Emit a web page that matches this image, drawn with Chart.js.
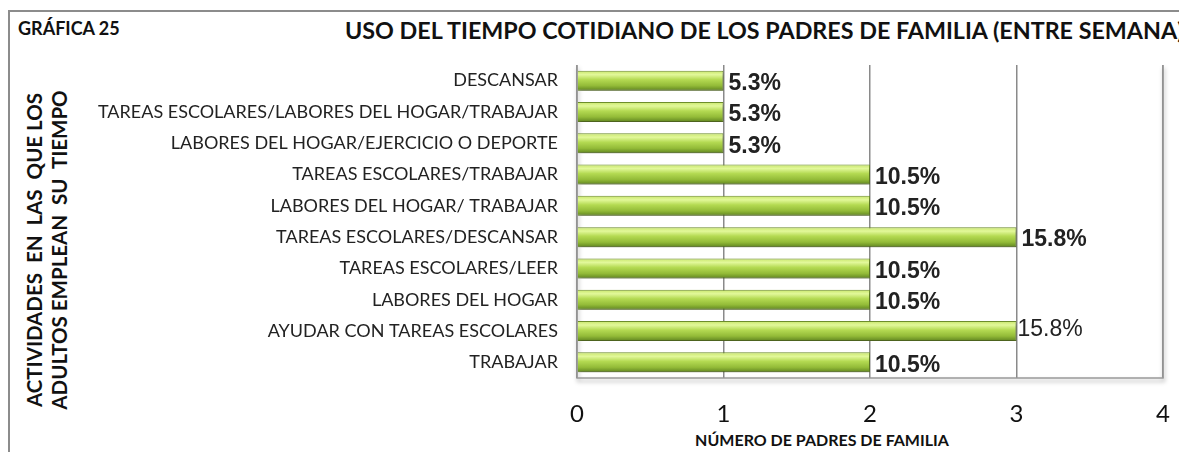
<!DOCTYPE html>
<html>
<head>
<meta charset="utf-8">
<script src="https://cdn.jsdelivr.net/npm/chart.js@4/dist/chart.umd.min.js"></script>
<style>
  body { margin: 0; background: #fff; }
  #wrap { position: relative; width: 1179px; height: 452px; overflow: hidden; }
  #frame { position: absolute; left: 8px; top: 10px; width: 1200px; height: 460px;
           border-top: 2px solid #8c8c8c; border-left: 2px solid #8c8c8c; }
  .txt { position: absolute; font-family: Lato, "Open Sans", sans-serif; font-weight: bold; color: #111; white-space: nowrap; }
  #num { left: 18px; top: 17px; font-size: 18px; }
  #title { left: 345px; top: 16px; font-size: 23.3px; }
  #ytitle { left: 47px; top: 250px; font-size: 20.5px; line-height: 25px; text-align: center;
            transform: translate(-50%, -50%) rotate(-90deg); }
  #xtitle { left: 822px; top: 439px; font-size: 16px; transform: translate(-50%, -50%); }
  canvas { position: absolute; left: 0; top: 0; }
</style>
</head>
<body>
<div id="wrap">
  <div id="frame"></div>
  <div class="txt" id="num">GRÁFICA 25</div>
  <div class="txt" id="title">USO DEL TIEMPO COTIDIANO DE LOS PADRES DE FAMILIA (ENTRE SEMANA)</div>
  <div class="txt" id="ytitle">ACTIVIDADES&nbsp; EN&nbsp; LAS&nbsp; QUE LOS<br>ADULTOS EMPLEAN&nbsp; SU&nbsp; TIEMPO</div>
  <div class="txt" id="xtitle">NÚMERO DE PADRES DE FAMILIA</div>
  <canvas id="chart" width="1179" height="452"></canvas>
</div>
<script>
const categories = [
  "DESCANSAR",
  "TAREAS ESCOLARES/LABORES DEL HOGAR/TRABAJAR",
  "LABORES DEL HOGAR/EJERCICIO O DEPORTE",
  "TAREAS ESCOLARES/TRABAJAR",
  "LABORES DEL HOGAR/ TRABAJAR",
  "TAREAS ESCOLARES/DESCANSAR",
  "TAREAS ESCOLARES/LEER",
  "LABORES DEL HOGAR",
  "AYUDAR CON TAREAS ESCOLARES",
  "TRABAJAR"
];
const padres = [1, 1, 1, 2, 2, 3, 2, 2, 3, 2];
const porcentajes = ["5.3%", "5.3%", "5.3%", "10.5%", "10.5%", "15.8%", "10.5%", "10.5%", "15.8%", "10.5%"];
const xTicks = [0, 1, 2, 3, 4];

function barGradient(c) {
  const chart = c.chart;
  if (!chart.chartArea || !chart.scales.y) return "#9bc23c";
  const y = chart.scales.y.getPixelForValue(c.dataIndex);
  const g = chart.ctx.createLinearGradient(0, y - 10, 0, y + 10);
  g.addColorStop(0, "#c8e66a");
  g.addColorStop(0.2, "#e2f89a");
  g.addColorStop(0.45, "#b4da52");
  g.addColorStop(0.75, "#93bb38");
  g.addColorStop(1, "#5f8420");
  return g;
}

const shadow = {
  id: "shadow",
  beforeDatasetsDraw(chart) {
    const ctx = chart.ctx;
    ctx.save();
    ctx.shadowColor = "rgba(0,0,0,0.35)";
    ctx.shadowBlur = 4;
    ctx.shadowOffsetY = 3;
    ctx.shadowOffsetX = 1;
  },
  afterDatasetsDraw(chart) {
    chart.ctx.restore();
  }
};

const valueLabels = {
  id: "valueLabels",
  afterDatasetsDraw(chart) {
    const ctx = chart.ctx;
    const meta = chart.getDatasetMeta(0);
    ctx.save();
    ctx.fillStyle = "#222";
    ctx.textBaseline = "middle";
    meta.data.forEach((bar, i) => {
      ctx.font = (i === 8 ? "" : "bold ") + "23px 'Liberation Sans', Arial, sans-serif";
      ctx.fillText(porcentajes[i], bar.x + (i === 8 ? 1 : 5), bar.y + (i === 8 ? -1 : 3));
    });
    ctx.restore();
  }
};

const box = {
  id: "box",
  beforeDatasetsDraw(chart) {
    const { ctx, chartArea: a } = chart;
    ctx.save();
    ctx.strokeStyle = "#999";
    ctx.lineWidth = 1.5;
    ctx.beginPath();
    ctx.moveTo(a.left, a.top);
    ctx.lineTo(a.left, a.bottom);
    ctx.lineTo(a.right, a.bottom);
    ctx.lineTo(a.right, a.top);
    ctx.stroke();
    ctx.restore();
  }
};

new Chart(document.getElementById("chart"), {
  type: "bar",
  data: {
    labels: categories,
    datasets: [{
      data: padres,
      backgroundColor: barGradient,
      borderColor: "#6f8f2c",
      borderWidth: 1,
      barPercentage: 0.64,
      categoryPercentage: 1
    }]
  },
  options: {
    indexAxis: "y",
    responsive: false,
    animation: false,
    layout: { padding: { top: 65, right: 16, left: 0, bottom: 0 } },
    plugins: { legend: { display: false }, tooltip: { enabled: false } },
    scales: {
      x: {
        min: 0,
        max: 4,
        afterBuildTicks: s => { s.ticks = xTicks.map(v => ({ value: v })); },
        afterFit: s => { s.height = 74; s.paddingLeft = 0; s.paddingRight = 0; },
        grid: { color: "#8a8a8a", lineWidth: 1.5, drawTicks: false },
        border: { display: false },
        ticks: { color: "#111", padding: 22, font: { family: "Lato, 'Open Sans', sans-serif", size: 24 } }
      },
      y: {
        afterFit: s => { s.width = 577; },
        grid: { display: false, drawTicks: false },
        border: { display: false },
        ticks: { color: "#222", padding: 19, font: { family: "Lato, 'Open Sans', sans-serif", size: 18 } }
      }
    }
  },
  plugins: [shadow, valueLabels, box]
});
</script>
</body>
</html>
